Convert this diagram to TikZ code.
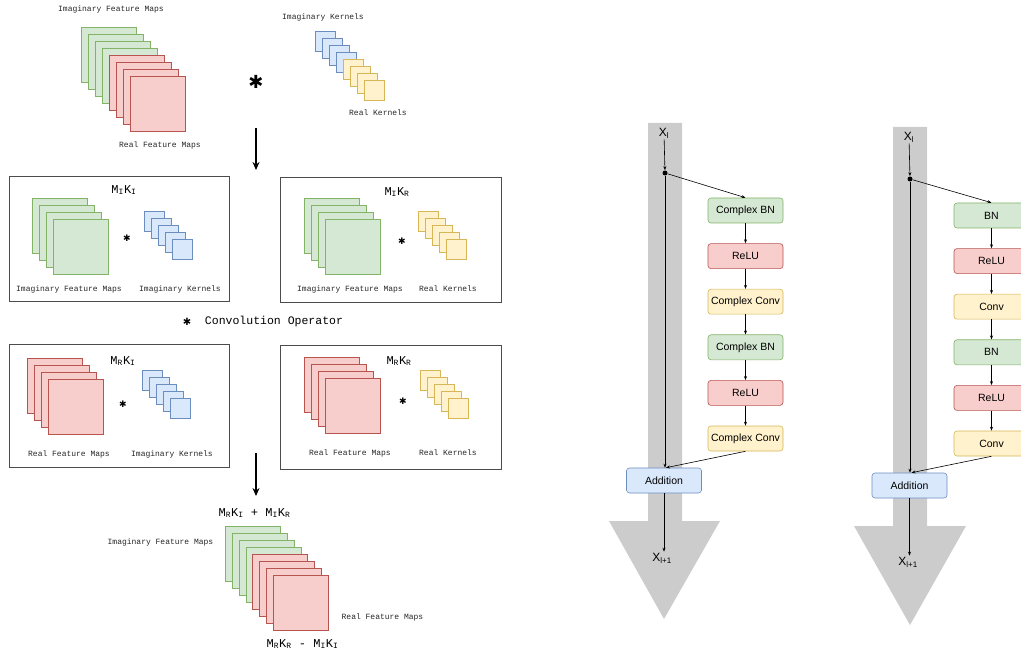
\documentclass[tikz,border=0pt]{standalone}
\usepackage{fontspec}
\setmainfont{Liberation Sans}
\setmonofont{Liberation Mono}
\newfontfamily\symfont{DejaVu Sans}
\usetikzlibrary{positioning, arrows.meta}
\definecolor{gfill}{HTML}{D5E8D4}\definecolor{gline}{HTML}{82B366}
\definecolor{rfill}{HTML}{F8CECC}\definecolor{rline}{HTML}{B85450}
\definecolor{bfill}{HTML}{DAE8FC}\definecolor{bline}{HTML}{6C8EBF}
\definecolor{yfill}{HTML}{FFF2CC}\definecolor{yline}{HTML}{D6B656}
\definecolor{shaft}{HTML}{CCCCCC}
\tikzset{fmap/.style={draw=#1line, fill=#1fill, line width=0.7pt, inner sep=0pt, minimum size=55pt, anchor=north west}}
\tikzset{kern/.style={draw=#1line, fill=#1fill, line width=0.7pt, inner sep=0pt, minimum size=20pt, anchor=north west}}
\tikzset{lbl/.style={font=\ttfamily\fontsize{8}{9}\selectfont, text=black!85, inner sep=0pt}}
\tikzset{ttl/.style={font=\ttfamily\fontsize{12}{13}\selectfont, inner sep=0pt}}
\tikzset{opstar/.style={font=\symfont\fontsize{#1}{#1}\selectfont, inner sep=0pt}}
\tikzset{frame/.style={draw=black!70, line width=0.8pt, inner sep=0pt, anchor=north west}}
\tikzset{blk/.style={draw=#1line, fill=#1fill, rounded corners=3pt, line width=0.6pt, inner sep=0pt,
        minimum width=75pt, minimum height=25pt, font=\fontsize{10.5}{12}\selectfont}}
\tikzset{xlbl/.style={font=\fontsize{12}{13}\selectfont, inner sep=1pt}}

\begin{document}
\begin{tikzpicture}[x=1pt, y=-1pt, >={Stealth[length=4pt,width=3pt]}, line width=0.6pt]
        \useasboundingbox (0,0) rectangle (1021,655);

        % input maps and kernels
        \foreach \i in {0,...,3} \node[fmap=g] (tg\i) at (81+7*\i, 27+7*\i) {};
        \foreach \i in {0,...,3} \node[fmap=r] (tr\i) at (109+7*\i, 55+7*\i) {};
        \node[lbl] (tglbl) at (111,9) {Imaginary Feature Maps};
        \node[lbl] (trlbl) at (160,145) {Real Feature Maps};
        \node[opstar=18] (tstar) at (256,82) {✱};
        \foreach \i in {0,...,3} \node[kern=b] (tb\i) at (315+7*\i, 31+7*\i) {};
        \foreach \i in {0,...,3} \node[kern=y] (ty\i) at (343+7*\i, 59+7*\i) {};
        \node[lbl] (tblbl) at (323,17) {Imaginary Kernels};
        \node[lbl] (tylbl) at (378,113) {Real Kernels};

        \coordinate (down1s) at (256,128);
        \coordinate (down1e) at (256,170);
        \draw[-{Stealth[length=8pt,width=7pt]}, line width=1.2pt] (down1s) -- (down1e);

        % M_I K_I
        \node[frame, minimum width=220pt, minimum height=125pt] (boxII) at (9,176) {};
        \node[ttl] (ttlII) at (124,190) {M\textsubscript{I}K\textsubscript{I}};
        \foreach \i in {0,...,3} \node[fmap=g] (iig\i) at (32+7*\i, 198+7*\i) {};
        \node[opstar=9] (starII) at (127,238) {✱};
        \foreach \i in {0,...,4} \node[kern=b] (iib\i) at (144+7*\i, 211+7*\i) {};
        \node[lbl] at (69,289) {Imaginary Feature Maps};
        \node[lbl] at (180,289) {Imaginary Kernels};

        % M_I K_R
        \node[frame, minimum width=221pt, minimum height=125pt] (boxIR) at (280,177) {};
        \node[ttl] (ttlIR) at (397,192) {M\textsubscript{I}K\textsubscript{R}};
        \foreach \i in {0,...,3} \node[fmap=g] (irg\i) at (304+7*\i, 198+7*\i) {};
        \node[opstar=9] (starIR) at (402,241) {✱};
        \foreach \i in {0,...,4} \node[kern=y] (iry\i) at (418+7*\i, 211+7*\i) {};
        \node[lbl] at (350,289) {Imaginary Feature Maps};
        \node[lbl] at (448,289) {Real Kernels};

        \node[opstar=10] (legstar) at (187,322) {✱};
        \node[font=\ttfamily\fontsize{11.5}{13}\selectfont, inner sep=0pt] (legend) at (274,322) {Convolution Operator};

        % M_R K_I
        \node[frame, minimum width=220pt, minimum height=123pt] (boxRI) at (9,344) {};
        \node[ttl] (ttlRI) at (123,361) {M\textsubscript{R}K\textsubscript{I}};
        \foreach \i in {0,...,3} \node[fmap=r] (rir\i) at (27+7*\i, 358+7*\i) {};
        \node[opstar=9] (starRI) at (123,404) {✱};
        \foreach \i in {0,...,4} \node[kern=b] (rib\i) at (142+7*\i, 370+7*\i) {};
        \node[lbl] at (69,454) {Real Feature Maps};
        \node[lbl] at (172,454) {Imaginary Kernels};

        % M_R K_R
        \node[frame, minimum width=221pt, minimum height=124pt] (boxRR) at (280,345) {};
        \node[ttl] (ttlRR) at (399,361) {M\textsubscript{R}K\textsubscript{R}};
        \foreach \i in {0,...,3} \node[fmap=r] (rrr\i) at (304+7*\i, 357+7*\i) {};
        \node[opstar=9] (starRR) at (403,401) {✱};
        \foreach \i in {0,...,4} \node[kern=y] (rry\i) at (420+7*\i, 370+7*\i) {};
        \node[lbl] at (350,453) {Real Feature Maps};
        \node[lbl] at (448,453) {Real Kernels};

        \coordinate (down2s) at (256,453);
        \coordinate (down2e) at (256,496);
        \draw[-{Stealth[length=8pt,width=7pt]}, line width=1.2pt] (down2s) -- (down2e);

        % output maps
        \node[ttl] (sumttl) at (254.5,513) {M\textsubscript{R}K\textsubscript{I} + M\textsubscript{I}K\textsubscript{R}};
        \foreach \i in {0,...,3} \node[fmap=g] (og\i) at (225+7*\i, 526+7*\i) {};
        \foreach \i in {0,...,3} \node[fmap=r] (or\i) at (252+7*\i, 554+7*\i) {};
        \node[lbl] at (160.5,542) {Imaginary Feature Maps};
        \node[lbl] at (382.5,617) {Real Feature Maps};
        \node[ttl] (difttl) at (302.5,644) {M\textsubscript{R}K\textsubscript{R} - M\textsubscript{I}K\textsubscript{I}};

        % complex residual block
        \fill[shaft] (648,123) -- (682,123) -- (682,521) -- (720,521) -- (664,619) -- (609,521) -- (648,521) -- cycle;
        \node[xlbl] (xa) at (664,133) {X\textsubscript{l}};
        \node[circle, fill, inner sep=0pt, minimum size=5pt] (dota) at (665,173) {};
        \node[blk=g] (bna1) at (745.5,210.5) {Complex BN};
        \node[blk=r, below=20pt of bna1] (relua1) {ReLU};
        \node[blk=y, below=20pt of relua1] (conva1) {Complex Conv};
        \node[blk=g, below=20pt of conva1] (bna2) {Complex BN};
        \node[blk=r, below=20pt of bna2] (relua2) {ReLU};
        \node[blk=y, below=20pt of relua2] (conva2) {Complex Conv};
        \node[blk=b] (adda) at (664,480.5) {Addition};
        \node[xlbl] (xa1) at (662,558) {X\textsubscript{l+1}};

        \draw[->] (xa) -- (dota);
        \draw[->] (dota) -- (bna1.north);
        \draw[->] (bna1) -- (relua1);
        \draw[->] (relua1) -- (conva1);
        \draw[->] (conva1) -- (bna2);
        \draw[->] (bna2) -- (relua2);
        \draw[->] (relua2) -- (conva2);
        \draw[->] (dota) -- (dota |- adda.north);
        \draw[->] (conva2.south) -- ([xshift=2pt]adda.north);
        \draw[->] (adda) -- (adda.south |- xa1.north);

        % real residual block
        \fill[shaft] (893,127) -- (927,127) -- (927,526) -- (966,526) -- (910,625) -- (854,526) -- (893,526) -- cycle;
        \node[xlbl] (xb) at (909,137) {X\textsubscript{l}};
        \node[circle, fill, inner sep=0pt, minimum size=5pt] (dotb) at (910,179) {};
        \node[blk=g] (bnb1) at (991.5,215.5) {BN};
        \node[blk=r, below=20pt of bnb1] (relub1) {ReLU};
        \node[blk=y, below=20pt of relub1] (convb1) {Conv};
        \node[blk=g, below=20pt of convb1] (bnb2) {BN};
        \node[blk=r, below=20pt of bnb2] (relub2) {ReLU};
        \node[blk=y, below=20pt of relub2] (convb2) {Conv};
        \node[blk=b] (addb) at (909.5,485.5) {Addition};
        \node[xlbl] (xb1) at (908,562) {X\textsubscript{l+1}};

        \draw[->] (xb) -- (dotb);
        \draw[->] (dotb) -- (bnb1.north);
        \draw[->] (bnb1) -- (relub1);
        \draw[->] (relub1) -- (convb1);
        \draw[->] (convb1) -- (bnb2);
        \draw[->] (bnb2) -- (relub2);
        \draw[->] (relub2) -- (convb2);
        \draw[->] (dotb) -- (dotb |- addb.north);
        \draw[->] (convb2.south) -- ([xshift=2pt]addb.north);
        \draw[->] (addb) -- (addb.south |- xb1.north);
\end{tikzpicture}
\end{document}
